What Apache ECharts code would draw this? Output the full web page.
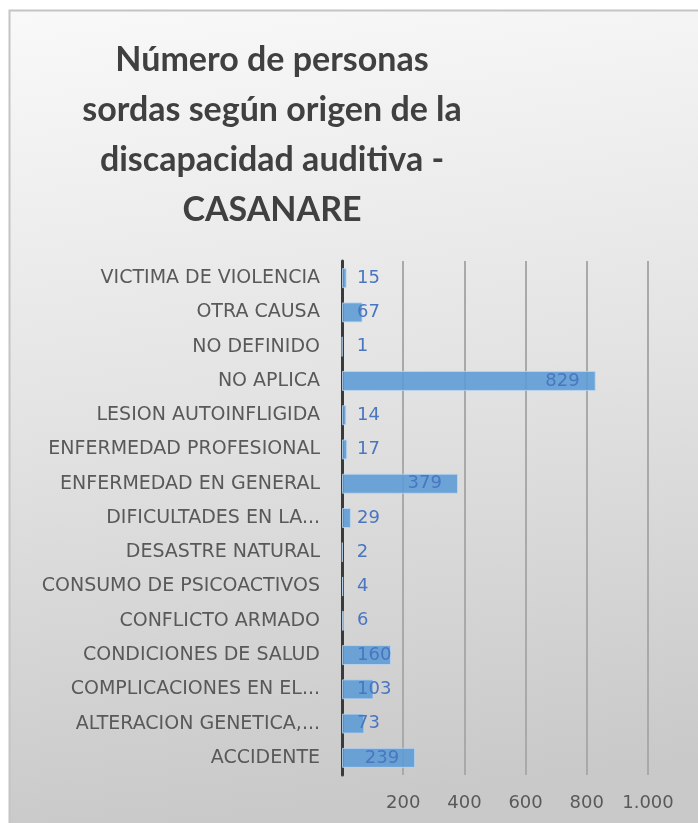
<!DOCTYPE html>
<html>
<head>
<meta charset="utf-8">
<script src="https://cdn.jsdelivr.net/npm/echarts@6/dist/echarts.min.js"></script>
<style>
    html, body { margin: 0; padding: 0; background: #fff; }
    #chart { width: 698px; height: 823px; }
</style>
</head>
<body>
<div id="chart"></div>
<script>
// categorias de abajo hacia arriba
var categories = ['ACCIDENTE', 'ALTERACION GENETICA,...', 'COMPLICACIONES EN EL...', 'CONDICIONES DE SALUD',
    'CONFLICTO ARMADO', 'CONSUMO DE PSICOACTIVOS', 'DESASTRE NATURAL', 'DIFICULTADES EN LA...',
    'ENFERMEDAD EN GENERAL', 'ENFERMEDAD PROFESIONAL', 'LESION AUTOINFLIGIDA', 'NO APLICA',
    'NO DEFINIDO', 'OTRA CAUSA', 'VICTIMA DE VIOLENCIA'];
var personas = [239, 73, 103, 160, 6, 4, 2, 29, 379, 17, 14, 829, 1, 67, 15];
var titleLines = ['Número de personas', 'sordas según origen de la', 'discapacidad auditiva -', 'CASANARE'];

/**
 * etiqueta al final de la barra si cabe, si no junto al eje
 */
function buildBarData(values) {
    var list = [];
    for (var i = 0; i < values.length; i++) {
        var big = values[i] >= 200;
        list.push({
            value: values[i],
            label: big ? {position: 'insideRight', distance: 16} : {position: 'insideLeft', distance: 15}
        });
    }
    return list;
}

var myChart = echarts.init(document.getElementById('chart'));
var option = {
    animation: false,
    graphic: [{
        type: 'rect',
        z: -10,
        shape: {x: 9.5, y: 10.5, width: 700, height: 820},
        style: {
            fill: new echarts.graphic.LinearGradient(0, 0, 0.15, 1, [
                {offset: 0, color: '#f9f9f9'},
                {offset: 0.5, color: '#e3e3e3'},
                {offset: 1, color: '#c9c9c9'}
            ]),
            stroke: '#c4c4c4',
            lineWidth: 2
        }
    }],
    title: {
        text: titleLines.join('\n'),
        left: 267,
        top: 30,
        textAlign: 'center',
        textStyle: {
            fontFamily: 'Lato',
            fontWeight: 'bold',
            fontSize: 34,
            lineHeight: 50,
            color: '#404040'
        }
    },
    grid: {
        left: 342,
        right: 50,
        top: 261,
        height: 514
    },
    xAxis: {
        type: 'value',
        min: 0,
        max: 1000,
        interval: 200,
        axisLine: {show: false},
        axisTick: {show: false},
        splitLine: {lineStyle: {color: '#a9a9a9', width: 2}},
        axisLabel: {
            margin: 19,
            fontFamily: 'DejaVu Sans',
            fontSize: 18,
            color: '#595959',
            formatter: function (v) {
                if (v === 0) return '';
                return v >= 1000 ? '1.000' : String(v);
            }
        }
    },
    yAxis: {
        type: 'category',
        data: categories,
        axisTick: {show: false},
        axisLine: {lineStyle: {color: '#3a3a3a', width: 3}},
        axisLabel: {
            margin: 22,
            fontFamily: 'DejaVu Sans',
            fontSize: 19,
            color: '#595959'
        }
    },
    series: [{
        type: 'bar',
        barWidth: 20,
        data: buildBarData(personas),
        itemStyle: {
            color: 'rgba(91,155,213,0.88)',
            borderColor: 'rgba(190,215,240,0.8)',
            borderWidth: 1
        },
        label: {
            show: true,
            fontFamily: 'DejaVu Sans',
            fontSize: 18,
            color: '#4a76c0'
        }
    }]
};
myChart.setOption(option);
</script>
</body>
</html>
